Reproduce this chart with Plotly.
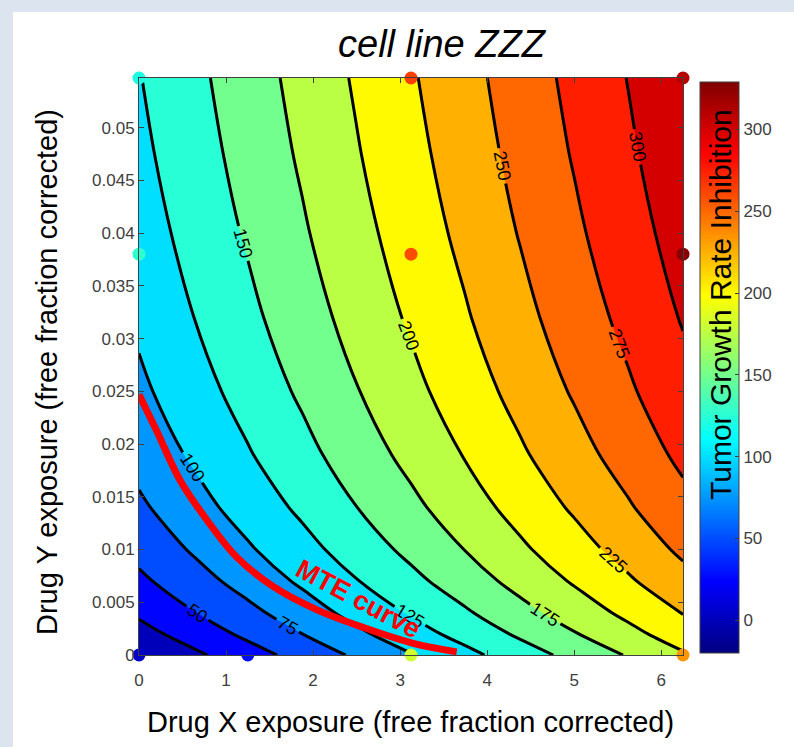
import plotly.graph_objects as go

# ---------------- data ----------------
x_grid = [0.0, 0.625, 1.25, 1.875, 2.5, 3.125, 3.75, 4.375, 5.0, 5.625, 6.25]
y_grid = [0.0, 0.002, 0.004, 0.007, 0.010, 0.014, 0.019, 0.025, 0.032, 0.040, 0.0475, 0.0547]
tgri_grid = [
    [0.0, 20.0, 39.5, 59.0, 79.0, 98.5, 118.0, 138.0, 157.5, 177.0, 197.0],
    [15.9, 35.9, 55.4, 74.9, 94.9, 114.4, 133.9, 153.9, 173.4, 192.9, 212.9],
    [29.0, 49.0, 68.5, 88.0, 108.0, 127.5, 147.0, 167.0, 186.5, 206.0, 226.0],
    [45.0, 65.0, 84.5, 104.0, 124.0, 143.5, 163.0, 183.0, 202.5, 222.0, 242.0],
    [57.6, 77.6, 97.1, 116.6, 136.6, 156.1, 175.6, 195.6, 215.1, 234.6, 254.6],
    [70.8, 90.8, 110.3, 129.8, 149.8, 169.3, 188.8, 208.8, 228.3, 247.8, 267.8],
    [83.5, 103.5, 123.0, 142.5, 162.5, 182.0, 201.5, 221.5, 241.0, 260.5, 280.5],
    [94.9, 114.9, 134.4, 153.9, 173.9, 193.4, 212.9, 232.9, 252.4, 271.9, 291.9],
    [104.8, 124.8, 144.3, 163.8, 183.8, 203.3, 222.8, 242.8, 262.3, 281.8, 301.8],
    [113.2, 133.2, 152.7, 172.2, 192.2, 211.7, 231.2, 251.2, 270.7, 290.2, 310.2],
    [119.3, 139.3, 158.8, 178.3, 198.3, 217.8, 237.3, 257.3, 276.8, 296.3, 316.3],
    [123.9, 143.9, 163.4, 182.9, 202.9, 222.4, 241.9, 261.9, 281.4, 300.9, 320.9],
]

mte_x = [0.0, 0.20, 0.47, 0.78, 1.12, 1.54, 2.04, 2.58, 3.15, 3.65]
mte_y = [0.0247, 0.0213, 0.0166, 0.0128, 0.0093, 0.0065, 0.0043, 0.0026, 0.0011, 0.0003]

obs_x = [0.0, 0.0, 0.0, 1.25, 3.125, 3.125, 3.125, 6.25, 6.25, 6.25]
obs_y = [0.0547, 0.038, 0.0, 0.0, 0.0, 0.038, 0.0547, 0.0547, 0.038, 0.0]
obs_tgri = [120, 127, 5, 27, 182, 259, 264, 310, 326, 234]

level_start, level_end, level_step = 25, 300, 25
cbar_ticks = [0, 50, 100, 150, 200, 250, 300]
c_min, c_max = -20, 329

# ---------------- styling helpers ----------------
FONT = "Liberation Sans, Arial, Helvetica, sans-serif"
TICK_COLOR = "#404040"


def jet_rgb(v):
    t = (v - c_min) / (c_max - c_min)
    t = min(max(t, 0.0), 1.0)
    def cl(a):
        return min(max(a, 0.0), 1.0)
    r = cl(1.5 - abs(4 * t - 3))
    g = cl(1.5 - abs(4 * t - 2))
    b = cl(1.5 - abs(4 * t - 1))
    return f"rgb({round(r*255)},{round(g*255)},{round(b*255)})"


jet_scale = [
    [0.0, "rgb(0,0,128)"], [0.125, "rgb(0,0,255)"], [0.375, "rgb(0,255,255)"],
    [0.625, "rgb(255,255,0)"], [0.875, "rgb(255,0,0)"], [1.0, "rgb(128,0,0)"],
]

# discrete fill colours: band with lower level L gets jet(L)
n_lev = (level_end - level_start) // level_step + 1
band_colors = [jet_rgb(level_step * j) for j in range(n_lev + 1)]
fill_scale = []
for j, col in enumerate(band_colors):
    lo = max(0.0, (j - 0.5) / n_lev)
    hi = min(1.0, (j + 0.5) / n_lev)
    fill_scale.append([lo, col])
    fill_scale.append([hi, col])

fig = go.Figure()

fig.add_trace(go.Contour(
    x=x_grid, y=y_grid, z=tgri_grid,
    autocontour=False,
    contours=dict(start=level_start, end=level_end, size=level_step,
                  coloring="fill", showlabels=True,
                  labelfont=dict(size=18, color="black", family=FONT)),
    colorscale=fill_scale, showscale=False,
    line=dict(color="black", width=3, smoothing=1),
    hoverinfo="skip",
))

fig.add_trace(go.Scatter(
    x=mte_x, y=mte_y, mode="lines",
    line=dict(color="rgb(255,0,0)", width=7, shape="spline"),
    hoverinfo="skip", showlegend=False,
))

fig.add_trace(go.Scatter(
    x=obs_x, y=obs_y, mode="markers", cliponaxis=False,
    marker=dict(size=13, color=obs_tgri, colorscale=jet_scale, cmin=c_min, cmax=c_max,
                showscale=True, line=dict(width=0),
                colorbar=dict(x=(700 - 139) / 544, xanchor="left", xpad=0, ypad=0,
                              y=(655 - 367.5) / 577, yanchor="middle",
                              len=(653 - 82) / 577, lenmode="fraction",
                              thickness=39, thicknessmode="pixels",
                              outlinewidth=1, outlinecolor=TICK_COLOR,
                              tickvals=cbar_ticks, ticks="inside", ticklen=4,
                              tickcolor=TICK_COLOR,
                              tickfont=dict(size=17, color=TICK_COLOR, family=FONT))),
    hoverinfo="skip", showlegend=False,
))

W, H = 794, 747
L, R, T, B = 139, 111, 78, 92
pw, ph = W - L - R, H - T - B


def px_x(p):
    return (p - L) / pw


def px_y(p):
    return (H - B - p) / ph


fig.update_layout(
    width=W, height=H,
    margin=dict(l=L, r=R, t=T, b=B, pad=0),
    paper_bgcolor="#dce4ef", plot_bgcolor="white",
    showlegend=False,
    font=dict(family=FONT, color="black"),
    xaxis=dict(range=[0, 6.25], tickvals=[0, 1, 2, 3, 4, 5, 6], ticks="inside", ticklen=5,
               tickcolor=TICK_COLOR, showline=True, linecolor=TICK_COLOR, linewidth=1,
               mirror="ticks", showgrid=False, zeroline=False, ticklabelstandoff=10,
               tickfont=dict(size=17, color=TICK_COLOR, family=FONT)),
    yaxis=dict(range=[0, 0.0547], tick0=0, dtick=0.005, ticks="inside", ticklen=5,
               tickcolor=TICK_COLOR, showline=True, linecolor=TICK_COLOR, linewidth=1,
               mirror="ticks", showgrid=False, zeroline=False,
               tickfont=dict(size=17, color=TICK_COLOR, family=FONT)),
    shapes=[dict(type="rect", xref="paper", yref="paper", layer="below",
                 x0=px_x(13), x1=px_x(800), y0=px_y(760), y1=px_y(12),
                 fillcolor="white", line=dict(width=0))],
    annotations=[
        dict(text="cell line ZZZ", xref="paper", yref="paper", x=px_x(442), y=px_y(44),
             showarrow=False, xanchor="center", yanchor="middle",
             font=dict(size=38, color="black", family=FONT, style="italic")),
        dict(text="Drug X exposure (free fraction corrected)", xref="paper", yref="paper",
             x=px_x(410), y=px_y(722), showarrow=False, xanchor="center", yanchor="middle",
             font=dict(size=29, color="black", family=FONT)),
        dict(text="Drug Y exposure (free fraction corrected)", xref="paper", yref="paper",
             x=px_x(47), y=px_y(372), showarrow=False, xanchor="center", yanchor="middle",
             textangle=-90, font=dict(size=29, color="black", family=FONT)),
        dict(text="Tumor Growth Rate Inhibition", xref="paper", yref="paper",
             x=px_x(720), y=px_y(305), showarrow=False, xanchor="center", yanchor="middle",
             textangle=-90, font=dict(size=30, color="black", family=FONT)),
        dict(text="<b>MTE curve</b>", xref="x", yref="y", x=2.52, y=0.0053,
             showarrow=False, xanchor="center", yanchor="middle", textangle=28,
             font=dict(size=27, color="rgb(255,0,0)", family=FONT)),
    ],
)

fig.write_html("out.html", config={"displayModeBar": False})

# remove the browser's default page margin so the figure fills the window exactly
with open("out.html", "r", encoding="utf-8") as fh:
    html = fh.read()
html = html.replace("<head>", "<head><style>html,body{margin:0;padding:0;overflow:hidden;}</style>", 1)
with open("out.html", "w", encoding="utf-8") as fh:
    fh.write(html)
